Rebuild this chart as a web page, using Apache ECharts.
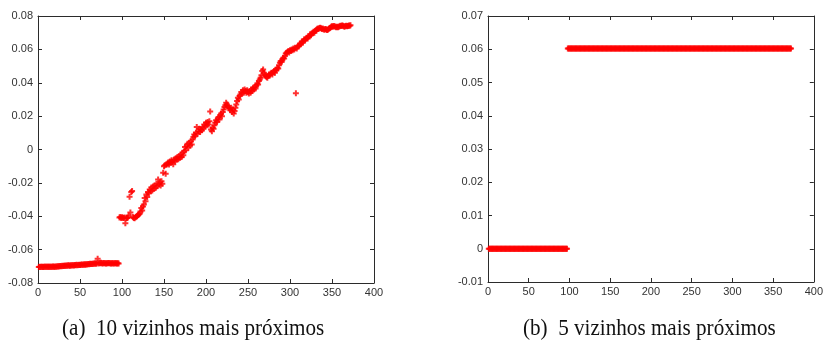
<!DOCTYPE html>
<html><head><meta charset="utf-8">
<script src="https://cdn.jsdelivr.net/npm/echarts@6/dist/echarts.min.js"></script>
<style>html,body{margin:0;padding:0;background:#fff}#c{width:826px;height:344px}</style>
</head><body><div id="c"></div>
<script>
// ---- data ----
// (a) 10 nearest neighbours: y values for x = 1..372
const leftValues = [
-0.0704,-0.0703,-0.0704,-0.0703,-0.0703,-0.0704,-0.0702,-0.0703,-0.0703,-0.0702,
-0.0703,-0.0702,-0.0703,-0.0702,-0.0702,-0.0703,-0.0702,-0.0701,-0.0702,-0.0702,
-0.0701,-0.0702,-0.0700,-0.0701,-0.0699,-0.0700,-0.0698,-0.0699,-0.0697,-0.0698,
-0.0697,-0.0696,-0.0697,-0.0695,-0.0696,-0.0694,-0.0695,-0.0696,-0.0694,-0.0695,
-0.0694,-0.0693,-0.0695,-0.0692,-0.0693,-0.0691,-0.0693,-0.0692,-0.0690,-0.0692,
-0.0691,-0.0689,-0.0690,-0.0691,-0.0688,-0.0690,-0.0687,-0.0689,-0.0688,-0.0686,
-0.0687,-0.0685,-0.0686,-0.0684,-0.0686,-0.0683,-0.0685,-0.0682,-0.0684,-0.0681,
-0.0655,-0.0683,-0.0680,-0.0682,-0.0679,-0.0681,-0.0683,-0.0680,-0.0682,-0.0681,
-0.0683,-0.0681,-0.0682,-0.0680,-0.0682,-0.0681,-0.0683,-0.0682,-0.0681,-0.0683,
-0.0682,-0.0681,-0.0682,-0.0683,-0.0682,-0.0683,
-0.0408,-0.0405,-0.0410,-0.0406,-0.0409,-0.0411,-0.0407,-0.0442,-0.0412,-0.0410,
-0.0408,-0.0396,-0.0283,-0.0378,-0.0255,-0.0248,-0.0405,-0.0410,-0.0412,-0.0406,
-0.0403,-0.0398,-0.0392,-0.0390,
-0.0385,-0.0372,-0.0350,-0.0365,-0.0342,-0.0330,-0.0290,-0.0310,-0.0270,-0.0285,
-0.0255,-0.0262,-0.0240,-0.0250,-0.0228,-0.0245,-0.0222,-0.0235,-0.0215,-0.0230,
-0.0205,-0.0220,-0.0180,-0.0210,-0.0198,-0.0215,-0.0190,-0.0205,-0.0140,-0.0100,
-0.0095,-0.0145,-0.0092,-0.0085,-0.0078,-0.0090,-0.0072,-0.0080,-0.0065,-0.0075,
-0.0088,-0.0060,-0.0070,-0.0052,-0.0062,-0.0045,-0.0058,-0.0040,-0.0050,-0.0030,
-0.0045,-0.0020,-0.0035,-0.0010,0.0015,-0.0005,0.0020,0.0035,0.0010,0.0040,
0.0025,0.0050,0.0030,0.0060,0.0075,0.0090,0.0080,0.0100,0.0135,0.0095,
0.0110,0.0125,0.0105,0.0120,0.0115,0.0135,0.0125,0.0150,0.0140,0.0160,
0.0145,0.0165,0.0150,0.0170,0.0228,0.0120,0.0110,0.0130,0.0125,0.0145,
0.0160,0.0175,0.0165,0.0185,0.0195,0.0180,0.0205,0.0215,0.0200,0.0225,
0.0240,0.0255,0.0265,0.0280,0.0270,0.0260,0.0250,0.0245,0.0235,0.0250,
0.0225,0.0240,0.0215,0.0230,0.0250,0.0270,0.0290,0.0310,0.0300,0.0320,
0.0330,0.0345,0.0335,0.0355,0.0340,0.0360,0.0350,0.0340,0.0355,0.0345,
0.0335,0.0350,0.0340,0.0360,0.0350,0.0370,0.0360,0.0375,0.0365,0.0385,
0.0395,0.0390,0.0410,0.0420,0.0430,0.0445,0.0470,0.0480,0.0460,0.0450,
0.0440,0.0435,0.0430,0.0440,0.0450,0.0445,0.0455,0.0460,0.0450,0.0465,
0.0470,0.0460,0.0475,0.0480,0.0490,0.0485,0.0505,0.0520,0.0530,0.0525,
0.0540,0.0550,0.0545,0.0560,0.0575,0.0580,0.0585,0.0590,0.0582,0.0595,
0.0590,0.0600,0.0595,0.0605,0.0600,0.0610,0.0337,0.0605,0.0615,0.0620,
0.0625,0.0635,0.0630,0.0645,0.0640,0.0650,0.0660,0.0655,0.0665,0.0670,
0.0665,0.0675,0.0680,0.0690,0.0685,0.0695,0.0700,0.0705,0.0700,0.0710,
0.0715,0.0720,0.0725,0.0722,0.0728,0.0730,0.0726,0.0722,0.0725,0.0720,
0.0718,0.0722,0.0720,0.0716,0.0718,0.0722,0.0726,0.0730,0.0735,0.0738,
0.0736,0.0740,0.0738,0.0735,0.0732,0.0735,0.0733,0.0736,0.0738,0.0742,
0.0740,0.0743,0.0741,0.0738,0.0736,0.0740,0.0742,0.0738,0.0740,0.0743,
0.0741,0.0744
];
// (b) 5 nearest neighbours: two read levels and the x where the jump happens
const rightLowLevel = 0;
const rightHighLevel = 0.0602;
const rightLastLowX = 97;
const rightCount = 372;
const captions = ['(a)  10 vizinhos mais próximos', '(b)  5 vizinhos mais próximos'];
const leftYTicks = {min: -0.08, max: 0.08, interval: 0.02};
const rightYTicks = {min: -0.01, max: 0.07, interval: 0.01};
const xTicks = {min: 0, max: 400, interval: 50};

// ---- build ----
const leftData = leftValues.map((v, i) => [i + 1, v]);
const rightData = [];
for (let x = 1; x <= rightCount; x++) rightData.push([x, x <= rightLastLowX ? rightLowLevel : rightHighLevel]);

const ax = '#2b2b2b';
const lbl = {color: '#333', fontFamily: 'Liberation Sans, Arial, sans-serif', fontSize: 11};
function xAx(g, pos) {
  return {type: 'value', gridIndex: g, position: pos, min: xTicks.min, max: xTicks.max, interval: xTicks.interval,
    axisLine: {show: true, onZero: false, lineStyle: {color: ax, width: 1}},
    axisTick: {show: true, inside: true, length: 4, lineStyle: {color: ax}},
    axisLabel: pos === 'bottom' ? Object.assign({margin: 4}, lbl) : {show: false},
    splitLine: {show: false}};
}
function yAx(g, pos, t) {
  return {type: 'value', gridIndex: g, position: pos, min: t.min, max: t.max, interval: t.interval,
    axisLine: {show: true, onZero: false, lineStyle: {color: ax, width: 1}},
    axisTick: {show: true, inside: true, length: 4, lineStyle: {color: ax}},
    axisLabel: pos === 'left' ? Object.assign({margin: 5, formatter: v => String(Math.round(v * 100) / 100)}, lbl) : {show: false},
    splitLine: {show: false}};
}
const plus = 'path://M1,0H2V1H3V2H2V3H1V2H0V1H1Z';
const chart = echarts.init(document.getElementById('c'), null, {renderer: 'canvas'});
chart.setOption({
  animation: false,
  backgroundColor: '#fff',
  grid: [
    {left: 38, top: 16, width: 336, height: 267},
    {left: 488, top: 16, width: 334, height: 266}
  ],
  xAxis: [xAx(0, 'bottom'), xAx(0, 'top'), xAx(1, 'bottom'), xAx(1, 'top')],
  yAxis: [yAx(0, 'left', leftYTicks), yAx(0, 'right', leftYTicks), yAx(1, 'left', rightYTicks), yAx(1, 'right', rightYTicks)],
  series: [
    {type: 'scatter', xAxisIndex: 0, yAxisIndex: 0, data: leftData, symbol: plus, symbolSize: 6,
      itemStyle: {color: '#ff0000'}, silent: true},
    {type: 'scatter', xAxisIndex: 2, yAxisIndex: 2, data: rightData, symbol: plus, symbolSize: 6,
      itemStyle: {color: '#ff0000'}, silent: true}
  ],
  graphic: [
    {type: 'text', x: 62, y: 317, scaleX: 0.88, style: {text: captions[0], font: '24px "Liberation Serif", "Times New Roman", serif', fill: '#111'}},
    {type: 'text', x: 523, y: 317, scaleX: 0.88, style: {text: captions[1], font: '24px "Liberation Serif", "Times New Roman", serif', fill: '#111'}}
  ]
});
</script></body></html>
